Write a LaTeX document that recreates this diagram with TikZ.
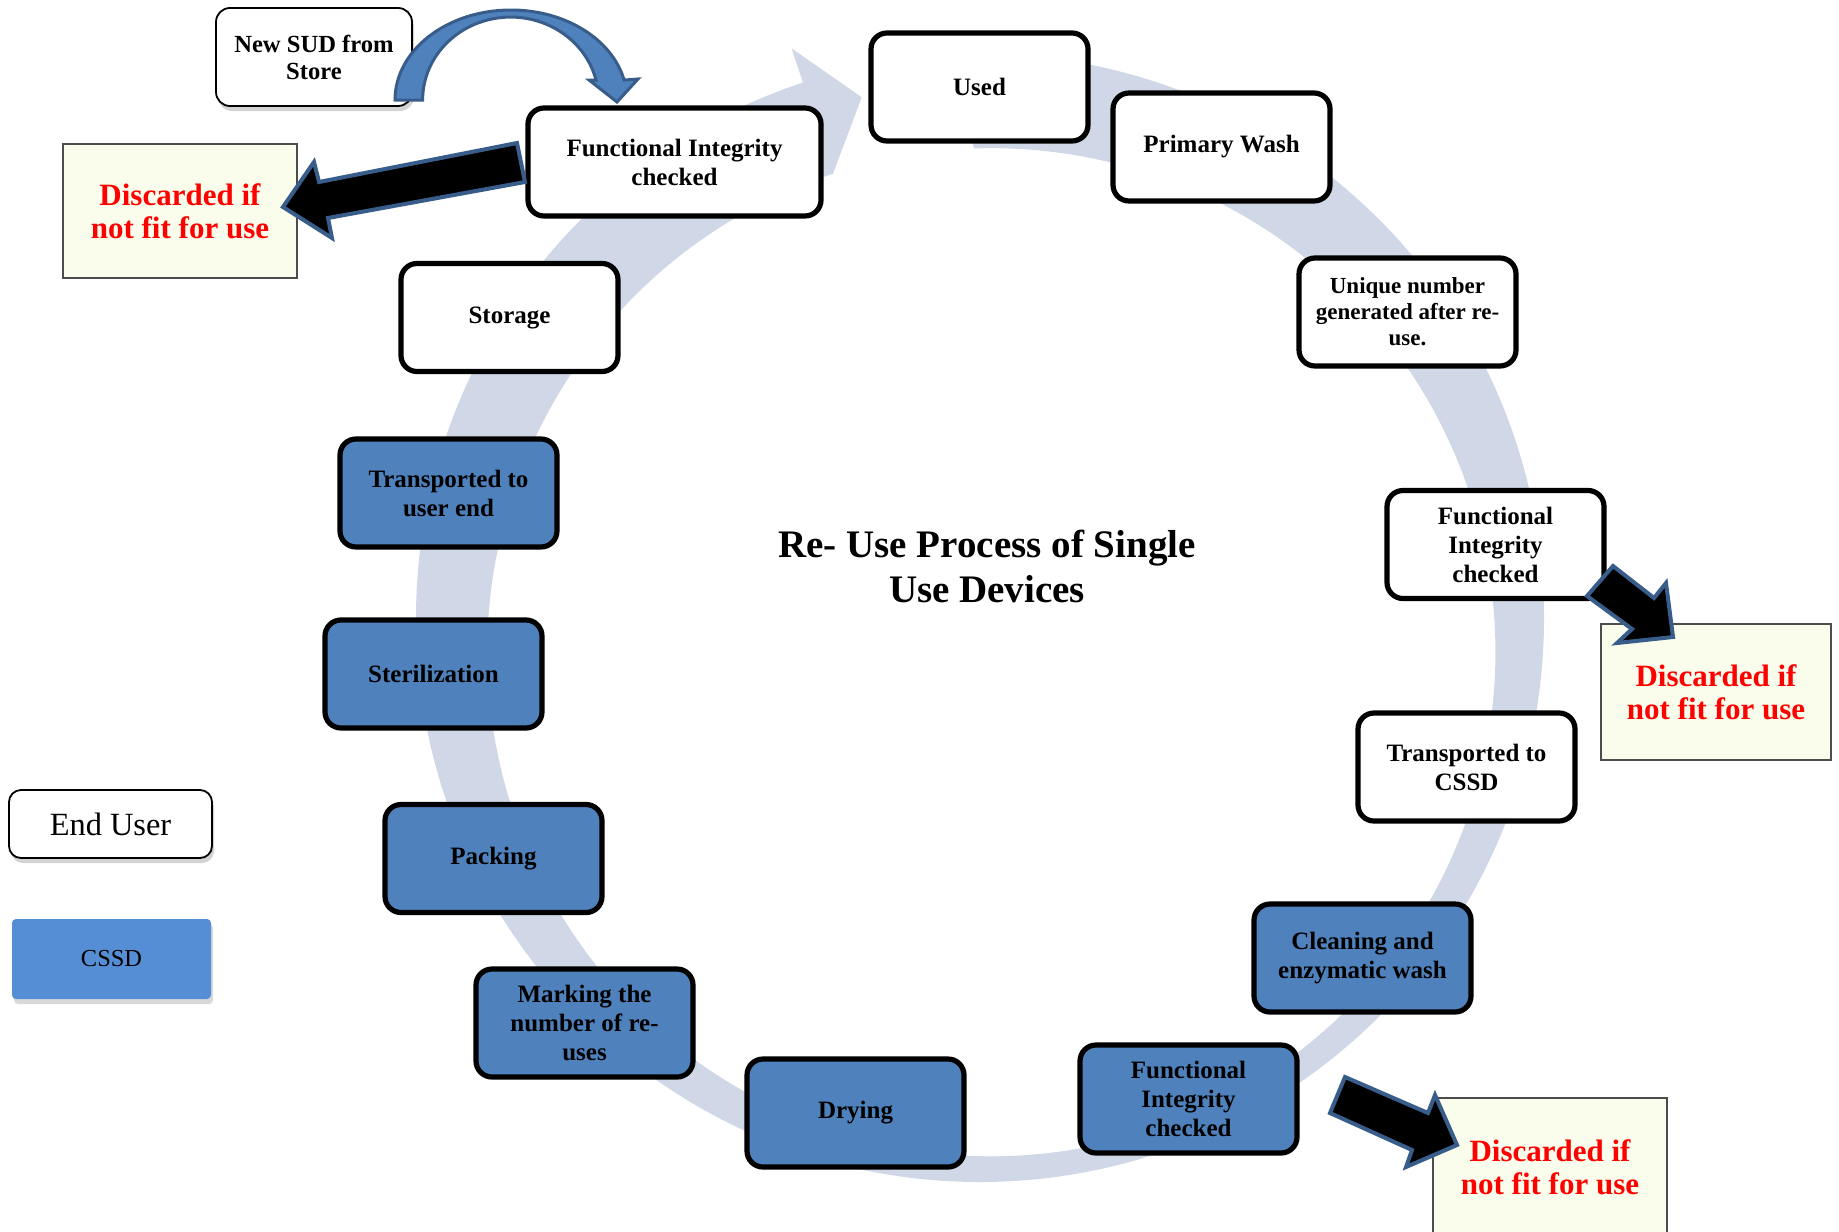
\documentclass[tikz,border=0pt]{standalone}
\usepackage{fontspec}
\setmainfont{Liberation Serif}
\usetikzlibrary{shadows}
\definecolor{ringc}{RGB}{208,216,232}
\definecolor{boxblue}{RGB}{79,129,189}
\definecolor{legblue}{RGB}{85,142,213}
\definecolor{discfill}{RGB}{250,253,235}
\definecolor{arrowedge}{RGB}{56,93,138}
\begin{document}
\begin{tikzpicture}[x=0.5pt,y=0.5pt,
  base/.style={rounded corners=8pt, line width=2.6pt, draw=black, align=center,
    font=\fontsize{12.5}{14.5}\selectfont\bfseries, minimum width=108.5pt,
    minimum height=54pt, inner sep=2pt},
  wbox/.style={base, fill=white},
  bbox/.style={base, fill=boxblue},
  disc/.style={draw=black!70, line width=0.8pt, fill=discfill, text=red, align=center,
    font=\fontsize{15.5}{16.5}\selectfont\bfseries, minimum width=117pt, minimum height=67pt},
  thinbox/.style={rounded corners=7pt, draw=black, line width=0.9pt, fill=white, align=center,
    drop shadow={shadow xshift=1pt, shadow yshift=-2.5pt, opacity=0.35}},
  blk/.style={fill=black, draw=arrowedge, line width=2pt, line join=miter},
  bluearrow/.style={fill=boxblue, draw=arrowedge, line width=1.5pt, line join=miter}
]
\useasboundingbox (0,0) rectangle (1839,-1231);

% ring arrow
\begin{scope}[shift={(980,-618)}]
  \fill[ringc] (92:564) arc[start angle=92, end angle=-251.7, radius=564]
    -- (-251.7:600) -- (-257.2:534) -- (-251.7:468)
    arc[start angle=-251.7, end angle=92, radius=504] -- cycle;
\end{scope}

% title
\node[align=center, font=\fontsize{19.5}{22.5}\selectfont\bfseries] (title) at (987,-566)
  {Re- Use Process of Single\\Use Devices};

% cycle boxes
\node[wbox] (used) at (979.5,-87) {Used};
\node[wbox] (pw) at (1221.5,-147) {Primary Wash};
\node[wbox, font=\fontsize{11.5}{13}\selectfont\bfseries] (uniq) at (1407.5,-312) {Unique number\\generated after re-\\use.};
\node[wbox] (fir) at (1495.5,-544.5) {Functional\\Integrity\\checked};
\node[wbox] (tcssd) at (1466.5,-767) {Transported to\\CSSD};
\node[bbox] (clean) at (1362.5,-958) {Cleaning and\\enzymatic wash};
\node[bbox] (fib) at (1188.5,-1099) {Functional\\Integrity\\checked};
\node[bbox] (dry) at (855.5,-1113) {Drying};
\node[bbox] (mark) at (584.5,-1023) {Marking the\\number of re-\\uses};
\node[bbox] (pack) at (493.5,-858.5) {Packing};
\node[bbox] (ster) at (433.5,-674) {Sterilization};
\node[bbox] (tuser) at (448.5,-493) {Transported to\\user end};
\node[wbox] (stor) at (509.5,-317.5) {Storage};
\node[wbox, minimum width=146.5pt] (fit) at (674.5,-162) {Functional Integrity\\checked};

% new SUD
\node[thinbox, font=\fontsize{12.3}{13.5}\selectfont\bfseries, minimum width=98pt, minimum height=49pt] (sud) at (314,-57) {New SUD from\\Store};

% discard boxes
\node[disc] (dl) at (180,-211) {Discarded if\\not fit for use};
\node[disc, minimum width=115pt, minimum height=68pt] (dr) at (1716,-692) {Discarded if\\not fit for use};
\node[disc, minimum height=69pt] (db) at (1550,-1167) {Discarded if\\not fit for use};

% legend
\node[thinbox, rounded corners=6pt, font=\fontsize{16.2}{18}\selectfont, minimum width=101.5pt, minimum height=34pt] (leu) at (110.5,-824) {End User};
\node[fill=legblue, rounded corners=2pt, font=\fontsize{12.2}{14}\selectfont, minimum width=99.5pt, minimum height=40pt,
  drop shadow={shadow xshift=1pt, shadow yshift=-2.5pt, opacity=0.3}] (lcs) at (111.5,-959) {CSSD};

% curved blue arrow from store
\draw[bluearrow] (395,-100) arc[start angle=180, end angle=12.8, x radius=116, y radius=90]
  -- (638,-79) -- (617,-102) -- (589,-80) -- (596,-80)
  arc[start angle=14, end angle=180, x radius=88, y radius=83] -- cycle;

% black discard arrows
\draw[blk] (517,-143) -- (525,-182) -- (328,-218) -- (332,-238) -- (283,-207)
  -- (314,-162) -- (319,-182) -- cycle;
\draw[blk] (1613,-566) -- (1587,-596) -- (1632,-629) -- (1617,-643) -- (1673,-637)
  -- (1666,-583) -- (1654,-598) -- cycle;
\draw[blk] (1345,-1077) -- (1330,-1113) -- (1412,-1150) -- (1406,-1167) -- (1457,-1145)
  -- (1435,-1095) -- (1428,-1113) -- cycle;
\end{tikzpicture}
\end{document}
